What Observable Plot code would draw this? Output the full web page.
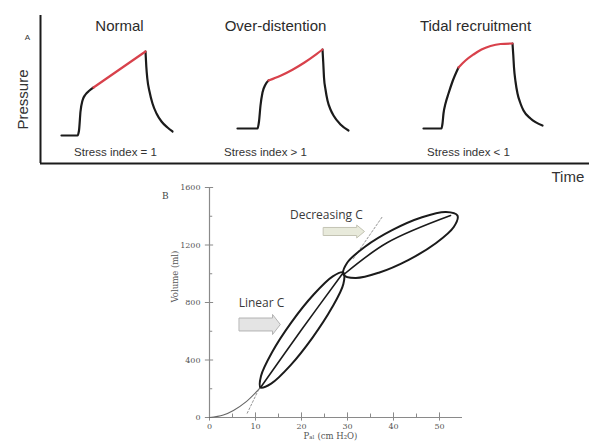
<!DOCTYPE html>
<html><head><meta charset="utf-8">
<script src="https://cdn.jsdelivr.net/npm/d3@7"></script>
<script src="https://cdn.jsdelivr.net/npm/@observablehq/plot@0.6"></script>
<style>
body{margin:0;background:#fff;}
#chart{width:589px;height:448px;position:relative;overflow:hidden;background:#fff}
#chart svg{display:block;overflow:visible}
</style></head><body><div id="chart"></div>
<script>
// ---------------- Panel A data (time, pressure; arbitrary units) ----------------
const scenarios = ["Normal", "Over-distention", "Tidal recruitment"];
const stressLabels = ["Stress index = 1", "Stress index > 1", "Stress index < 1"];

const normalRiseT  = [21, 37, 38.5, 40, 42, 45, 49, 53];
const normalRiseP  = [28, 28, 33, 52, 63, 69, 73, 76];
const normalInspT  = [53, 105];
const normalInspP  = [76, 112];
const normalDecayT = [105, 105.8, 106.8, 109, 112, 116, 121, 127, 132];
const normalDecayP = [112, 97, 85, 72, 60, 50, 42, 36, 32];

const overRiseT  = [197, 217, 218.5, 220, 222, 225, 228];
const overRiseP  = [35, 35, 42, 58, 71, 79, 83];
const overInspT  = [228, 240, 252, 264, 276, 282];
const overInspP  = [83, 87.8, 93.8, 101, 109.4, 114];
const overDecayT = [282, 282.8, 283.5, 285, 287, 290, 293, 300, 308];
const overDecayP = [114, 100, 86, 74, 63, 54, 48, 39, 33];

const tidalRiseT  = [383, 401, 402, 403, 405, 408, 412, 418];
const tidalRiseP  = [35, 35, 40, 50, 60, 70, 82, 96];
const tidalInspT  = [418, 425, 433, 441, 450, 460, 472];
const tidalInspP  = [96, 103, 109, 114, 117.5, 119.5, 120];
const tidalDecayT = [472, 472.8, 473.5, 475, 477, 480, 483, 490, 502];
const tidalDecayP = [120, 108, 96, 82, 70, 60, 53, 45, 38];

// ---------------- Panel B data (Pal cmH2O, Volume ml) ----------------
const volumeTicks = [0, 400, 800, 1200, 1600];
const volumeMinor = [200, 600, 1000, 1400];
const pressureTicks = [0, 10, 20, 30, 40, 50];
const pressureMinor = [5, 15, 25, 35, 45];

const toeP = [0, 3, 5.2, 8, 11.1];
const toeV = [0, 17, 49, 110, 209];
const lowerLoopP = [29.1, 29.1, 26.6, 22.4, 17.6, 13.4, 11.1, 11.2, 13.6, 17.8, 22.6, 26.8];
const lowerLoopV = [1009, 929, 763, 556, 363, 236, 209, 289, 454, 662, 854, 982];
const lowerMidP = [11.1, 20, 29.1];
const lowerMidV = [209, 610, 1009];
const upperLoopP = [53.9, 53.1, 49.2, 43.2, 36.8, 31.7, 29.1, 29.9, 33.8, 39.8, 46.2, 51.4];
const upperLoopV = [1405, 1325, 1212, 1095, 1007, 970, 995, 1075, 1188, 1305, 1393, 1430];
const upperMidP = [29.4, 38.7, 52.4];
const upperMidV = [1000, 1217, 1405];
const linearTangentP = [8.2, 11];
const linearTangentV = [30, 215];
const decreasingTangentP = [31.3, 37.6];
const decreasingTangentV = [1106, 1398];

const annotations = ["Linear C", "Decreasing C"];

// ---------------- helpers ----------------
const rows = (xs, ys) => xs.map((x, i) => ({x, y: ys[i]}));
const ink = "#1b1b1b";
const red = "#d8414b";
const sans = "'Liberation Sans', Arial, sans-serif";
const serif = "'DejaVu Serif', 'Liberation Serif', serif";

function wave(rise, insp, decay) {
  return [
    Plot.line(rise, {x: "x", y: "y", curve: "monotone-x", stroke: ink, strokeWidth: 2.2}),
    Plot.line(decay, {x: "x", y: "y", curve: "monotone-x", stroke: ink, strokeWidth: 2.2}),
    Plot.line(insp, {x: "x", y: "y", curve: "monotone-x", stroke: red, strokeWidth: 2.2})
  ];
}

// ---------------- Panel A ----------------
const titleT = [79, 235, 435];
const stressT = [75, 225, 428];

const panelA = Plot.plot({
  width: 589, height: 180,
  marginLeft: 40, marginRight: 0, marginTop: 0, marginBottom: 17,
  x: {domain: [0, 549], axis: null},
  y: {domain: [0, 163], axis: null},
  style: {fontFamily: sans, background: "transparent", overflow: "visible"},
  marks: [
    Plot.ruleX([0], {y1: 0, y2: 148, stroke: ink, strokeWidth: 2}),
    Plot.ruleY([0], {x1: 0, x2: 549, stroke: ink, strokeWidth: 2}),
    ...wave(rows(normalRiseT, normalRiseP), rows(normalInspT, normalInspP), rows(normalDecayT, normalDecayP)),
    ...wave(rows(overRiseT, overRiseP), rows(overInspT, overInspP), rows(overDecayT, overDecayP)),
    ...wave(rows(tidalRiseT, tidalRiseP), rows(tidalInspT, tidalInspP), rows(tidalDecayT, tidalDecayP)),
    ...scenarios.map((s, i) => Plot.text([s], {x: titleT[i], y: 137, fontSize: 15, fill: "#2b2b2b"})),
    ...stressLabels.map((s, i) => Plot.text([s], {x: stressT[i], y: 11, fontSize: 11.5, fill: "#333"})),
    Plot.text(["Pressure"], {x: -17, y: 64, rotate: -90, fontSize: 15, fill: "#333"}),
    Plot.text(["A"], {x: -13, y: 126, fontSize: 8, fill: "#333"}),
    Plot.text(["Time"], {x: 511, y: -14, textAnchor: "start", fontSize: 15, fill: "#333"})
  ]
});

// ---------------- Panel B ----------------
function arrowShape(x0, x1, x2, y, bh, hh) {
  return [
    {x: x0, y: y - bh}, {x: x1, y: y - bh}, {x: x1, y: y - hh}, {x: x2, y: y},
    {x: x1, y: y + hh}, {x: x1, y: y + bh}, {x: x0, y: y + bh}
  ];
}
const axisGray = "#8a8a8a";

const panelB = Plot.plot({
  width: 589, height: 268,
  marginLeft: 209, marginRight: 127, marginTop: 7, marginBottom: 31,
  x: {domain: [0, 55]},
  y: {domain: [0, 1600]},
  style: {fontFamily: serif, background: "transparent", overflow: "visible"},
  marks: [
    Plot.ruleX([0], {y1: 0, y2: 1600, stroke: axisGray, strokeWidth: 1.2}),
    Plot.ruleY([0], {x1: 0, x2: 55, stroke: axisGray, strokeWidth: 1.2}),
    Plot.ruleY(volumeTicks, {x1: -0.9, x2: 0.9, stroke: axisGray}),
    Plot.ruleY(volumeMinor, {x1: 0, x2: 0.7, stroke: axisGray}),
    Plot.ruleX(pressureTicks, {y1: -25, y2: 32, stroke: axisGray}),
    Plot.ruleX(pressureMinor, {y1: 0, y2: 24, stroke: axisGray}),
    Plot.axisY({ticks: volumeTicks, tickFormat: d3.format("d"), tickSize: 0, tickPadding: 9, fontSize: 8, fill: "#555", label: null}),
    Plot.axisX({ticks: pressureTicks, tickFormat: d3.format("d"), tickSize: 0, tickPadding: 6, fontSize: 8, fill: "#555", label: null}),
    Plot.text(["Volume (ml)"], {frameAnchor: "left", dx: -34, rotate: -90, fontSize: 8.5, fill: "#555"}),
    Plot.text(["P\u2090\u2097 (cm H\u2082O)"], {x: 26.3, frameAnchor: "bottom", dy: 21, fontSize: 8.5, fill: "#555"}),
    Plot.text(["B"], {x: -9.6, y: 1540, fontSize: 9, fill: "#444"}),
    // toe and tangents
    Plot.line(rows(toeP, toeV), {x: "x", y: "y", curve: "monotone-x", stroke: "#666", strokeWidth: 1.1}),
    Plot.line(rows(linearTangentP, linearTangentV), {x: "x", y: "y", stroke: "#888", strokeWidth: 0.9, strokeDasharray: "2,2"}),
    Plot.line(rows(decreasingTangentP, decreasingTangentV), {x: "x", y: "y", stroke: "#888", strokeWidth: 0.9, strokeDasharray: "2,2"}),
    // loops
    Plot.line(rows(lowerLoopP, lowerLoopV), {x: "x", y: "y", curve: "catmull-rom-closed", stroke: ink, strokeWidth: 2}),
    Plot.line(rows(lowerMidP, lowerMidV), {x: "x", y: "y", curve: "catmull-rom", stroke: ink, strokeWidth: 1.6}),
    Plot.line(rows(upperLoopP, upperLoopV), {x: "x", y: "y", curve: "catmull-rom-closed", stroke: ink, strokeWidth: 2}),
    Plot.line(rows(upperMidP, upperMidV), {x: "x", y: "y", curve: "catmull-rom", stroke: ink, strokeWidth: 1.6}),
    // arrows + labels
    Plot.line(arrowShape(6.5, 13.7, 15.4, 647, 45, 70), {x: "x", y: "y", curve: "linear-closed", fill: "#e4e4e4", stroke: "#b3b3b3", strokeWidth: 1}),
    Plot.line(arrowShape(24.8, 32, 33.7, 1294, 28, 45), {x: "x", y: "y", curve: "linear-closed", fill: "#e8eadb", stroke: "#c3c3b3", strokeWidth: 1}),
    Plot.text([annotations[0]], {x: 11.3, y: 793, fontFamily: "'Open Sans', sans-serif", fontSize: 12, fill: "#3a3a3a"}),
    Plot.text([annotations[1]], {x: 25.4, y: 1405, fontFamily: "'Open Sans', sans-serif", fontSize: 12, fill: "#3a3a3a"})
  ]
});

const chart = document.getElementById("chart");
chart.appendChild(panelA);
chart.appendChild(panelB);
</script>
</body></html>
